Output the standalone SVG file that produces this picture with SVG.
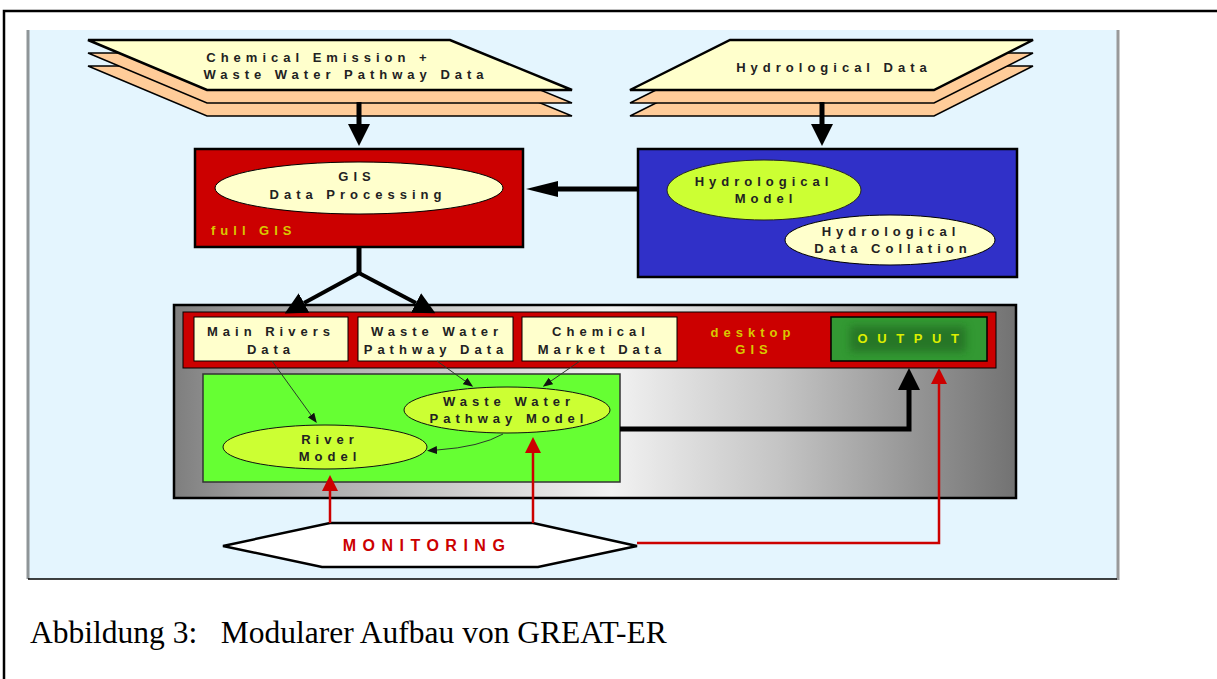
<svg xmlns="http://www.w3.org/2000/svg" width="1217" height="679" viewBox="0 0 1217 679">
<style>
.lbl{font-family:"Liberation Sans",Arial,sans-serif;font-weight:bold;font-size:13px;letter-spacing:5px;fill:#222;text-anchor:middle}
.yel{fill:#D8C800}
.thin{fill:none;stroke:#2a3a2a;stroke-width:1}
.thick{fill:none;stroke:#000;stroke-width:5}
.red{fill:none;stroke:#CC0000;stroke-width:2.5}
.paper{fill:#FFFFCC;stroke:#000;stroke-width:1}
</style>
<defs>
<linearGradient id="gray" x1="0" y1="0" x2="1" y2="0">
<stop offset="0" stop-color="#7e7e7e"/>
<stop offset="0.08" stop-color="#9a9a9a"/>
<stop offset="0.3" stop-color="#c6c6c6"/>
<stop offset="0.52" stop-color="#f2f2f2"/>
<stop offset="0.72" stop-color="#c4c4c4"/>
<stop offset="1" stop-color="#727272"/>
</linearGradient>
<filter id="blur" x="-20%" y="-40%" width="140%" height="180%"><feGaussianBlur stdDeviation="4"/></filter>
<marker id="big" viewBox="0 0 22 22" refX="0" refY="11" markerWidth="22" markerHeight="22" markerUnits="userSpaceOnUse" orient="auto"><path d="M0,0 L22,11 L0,22 z" fill="#000"/></marker>
<marker id="wide" viewBox="0 0 32 16" refX="0" refY="8" markerWidth="32" markerHeight="16" markerUnits="userSpaceOnUse" orient="auto"><path d="M0,0 L32,8 L0,16 z" fill="#000"/></marker>
<marker id="small" viewBox="0 0 10 8" refX="0" refY="4" markerWidth="10" markerHeight="8" markerUnits="userSpaceOnUse" orient="auto"><path d="M0,0 L10,4 L0,8 z" fill="#111"/></marker>
<marker id="redh" viewBox="0 0 16 16" refX="0" refY="8" markerWidth="16" markerHeight="16" markerUnits="userSpaceOnUse" orient="auto"><path d="M0,0 L16,8 L0,16 z" fill="#CC0000"/></marker>
</defs>
<rect width="1217" height="679" fill="#fff"/>
<path d="M4,679 L4,11 L1217,11" fill="none" stroke="#000" stroke-width="2.5"/>
<rect x="28" y="30" width="1090" height="549" fill="#E4F5FE"/>
<line x1="28" y1="30" x2="28" y2="579" stroke="#8f9598" stroke-width="3"/>
<line x1="1118" y1="30" x2="1118" y2="580" stroke="#999" stroke-width="3"/>
<line x1="28" y1="579" x2="1117" y2="579" stroke="#000" stroke-width="1.5"/>

<g id="chem-data">
<polygon points="88,66 450,66 572,116 207,116" fill="#FFCC99" stroke="#000" stroke-width="1.5"/>
<polygon points="88,53 450,53 572,103 207,103" fill="#FFCC99" stroke="#000" stroke-width="1.5"/>
<polygon points="88,40 450,40 572,90 207,90" fill="#FFFFCC" stroke="#000" stroke-width="2.5"/>
<text class="lbl" x="319" y="62">Chemical Emission +</text>
<text class="lbl" x="346" y="79">Waste Water Pathway Data</text>
</g>

<g id="hydro-data">
<polygon points="730,66 1033,66 934,116 630,116" fill="#FFCC99" stroke="#000" stroke-width="1.5"/>
<polygon points="730,53 1033,53 934,103 630,103" fill="#FFCC99" stroke="#000" stroke-width="1.5"/>
<polygon points="730,40 1033,40 934,90 630,90" fill="#FFFFCC" stroke="#000" stroke-width="2.5"/>
<text class="lbl" x="834" y="72">Hydrological Data</text>
</g>

<g id="gis">
<rect x="195" y="149" width="328" height="98" fill="#CC0000" stroke="#000" stroke-width="2.5"/>
<ellipse cx="359" cy="188" rx="144" ry="26" class="paper"/>
<text class="lbl" x="357" y="181">GIS</text>
<text class="lbl" x="358" y="199">Data Processing</text>
<text class="lbl yel" x="211" y="235" style="text-anchor:start">full GIS</text>
</g>

<g id="hydro">
<rect x="638" y="149" width="379" height="128" fill="#3030C8" stroke="#000" stroke-width="2.5"/>
<ellipse cx="764" cy="190" rx="97" ry="30" fill="#CCFF33" stroke="#222" stroke-width="1"/>
<text class="lbl" x="764" y="186">Hydrological</text>
<text class="lbl" x="766" y="203">Model</text>
<ellipse cx="890" cy="240" rx="105" ry="25" class="paper"/>
<text class="lbl" x="891" y="236">Hydrological</text>
<text class="lbl" x="893" y="253">Data Collation</text>
</g>

<g id="desktop-gis">
<rect x="174" y="305" width="842" height="193" fill="url(#gray)" stroke="#000" stroke-width="2.5"/>
<rect x="183" y="312" width="813" height="56" fill="#CC0000" stroke="#000" stroke-width="1"/>
<text class="lbl yel" x="753" y="337">desktop</text>
<text class="lbl yel" x="754" y="354">GIS</text>
</g>

<g id="main-rivers-data">
<rect x="194" y="317" width="154" height="44" class="paper"/>
<text class="lbl" x="271" y="336">Main Rivers</text>
<text class="lbl" x="271" y="354">Data</text>
</g>

<g id="ww-pathway-data">
<rect x="358" y="317" width="155" height="44" class="paper"/>
<text class="lbl" x="437" y="336">Waste Water</text>
<text class="lbl" x="436" y="354">Pathway Data</text>
</g>

<g id="chem-market-data">
<rect x="522" y="317" width="155" height="44" class="paper"/>
<text class="lbl" x="601" y="336">Chemical</text>
<text class="lbl" x="602" y="354">Market Data</text>
</g>

<g id="output">
<rect x="831" y="317" width="156" height="44" fill="#339933" stroke="#000" stroke-width="1.5"/>
<rect x="850" y="326" width="116" height="26" fill="#1f5a1f" opacity="0.55" filter="url(#blur)"/>
<text class="lbl" x="913" y="343" style="font-size:13px;letter-spacing:9.6px;fill:#DDEE00">OUTPUT</text>
</g>

<g id="models">
<rect x="203" y="374" width="417" height="108" fill="#66FF33" stroke="#333" stroke-width="1.5"/>
</g>

<g id="river-model">
<ellipse cx="325" cy="447" rx="102" ry="22" fill="#CCFF33" stroke="#111" stroke-width="1"/>
<text class="lbl" x="330" y="444">River</text>
<text class="lbl" x="330" y="461">Model</text>
</g>

<g id="ww-pathway-model">
<ellipse cx="507" cy="410" rx="103" ry="23" fill="#CCFF33" stroke="#111" stroke-width="1"/>
<text class="lbl" x="509" y="406">Waste Water</text>
<text class="lbl" x="509" y="423">Pathway Model</text>
</g>

<g id="monitoring">
<polygon points="223,546 330,523 533,523 637,546 538,567 322,567" fill="#fff" stroke="#000" stroke-width="2.5"/>
<text class="lbl" x="427" y="551" style="font-size:16px;letter-spacing:6.5px;fill:#CC0000">MONITORING</text>
</g>

<g id="connectors">
<path class="thick" d="M359,102 L359,124" marker-end="url(#big)"/>
<path class="thick" d="M822,102 L822,124" marker-end="url(#big)"/>
<path class="thick" d="M638,189 L558,189" marker-end="url(#wide)"/>
<path class="thick" d="M359,247 L359,273"/>
<path class="thick" style="stroke-width:4" d="M361,272 L304,303" marker-end="url(#big)"/>
<path class="thick" style="stroke-width:4" d="M357,272 L416,303" marker-end="url(#big)"/>
<path class="thick" d="M620,429 L909,429 L909,390" marker-end="url(#big)"/>
<path class="thin" d="M272,361 L311,415" marker-end="url(#small)"/>
<path class="thin" d="M437,361 L465,381" marker-end="url(#small)"/>
<path class="thin" d="M580,361 L551,381" marker-end="url(#small)"/>
<path class="thin" d="M503,434 Q480,447 437,450" marker-end="url(#small)"/>
<path class="red" d="M330,523 L330,491" marker-end="url(#redh)"/>
<path class="red" d="M533,523 L533,453" marker-end="url(#redh)"/>
<path class="red" d="M637,543 L939,543 L939,384" marker-end="url(#redh)"/>
</g>

<text x="30" y="643" style="font-family:'Liberation Serif','Times New Roman',serif;font-size:31.5px;fill:#000" xml:space="preserve">Abbildung 3:   Modularer Aufbau von GREAT-ER</text>
</svg>
